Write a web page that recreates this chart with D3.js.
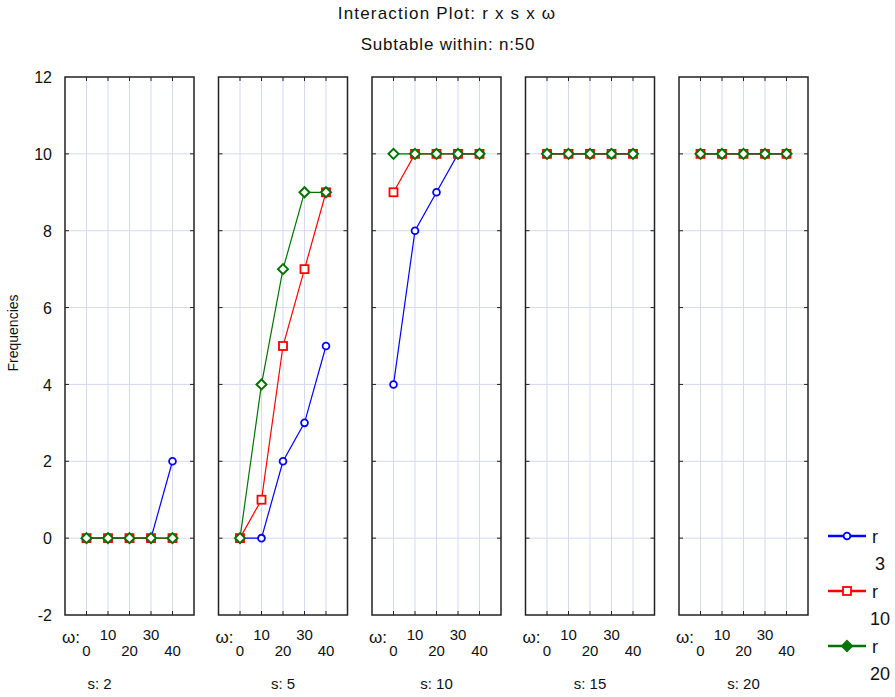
<!DOCTYPE html>
<html>
<head>
<meta charset="utf-8">
<script src="https://cdn.jsdelivr.net/npm/d3@7"></script>
<style>
  body { margin: 0; background: #fff; }
  text { font-family: "Liberation Sans", Arial, sans-serif; fill: #111; }
</style>
</head>
<body>
<div id="chart"></div>
<script>
// data
const omegaValues = [0, 10, 20, 30, 40];
const sPanels = [2, 5, 10, 15, 20];
const rLevels = [3, 10, 20];
const yTicks = [-2, 0, 2, 4, 6, 8, 10, 12];
// one row per s panel, values across omega
const freqR3 = [
    [0, 0, 0, 0, 2],
    [0, 0, 2, 3, 5],
    [4, 8, 9, 10, 10],
    [10, 10, 10, 10, 10],
    [10, 10, 10, 10, 10]
];
const freqR10 = [
    [0, 0, 0, 0, 0],
    [0, 1, 5, 7, 9],
    [9, 10, 10, 10, 10],
    [10, 10, 10, 10, 10],
    [10, 10, 10, 10, 10]
];
const freqR20 = [
    [0, 0, 0, 0, 0],
    [0, 4, 7, 9, 9],
    [10, 10, 10, 10, 10],
    [10, 10, 10, 10, 10],
    [10, 10, 10, 10, 10]
];

const series = [
    { r: rLevels[0], values: freqR3, color: "#0000ff", marker: "circle" },
    { r: rLevels[1], values: freqR10, color: "#ff0000", marker: "square" },
    { r: rLevels[2], values: freqR20, color: "#007400", marker: "diamond" }
];

const width = 895, height = 697;
const panel = { left: 65, top: 77, width: 129, height: 538, step: 153.5 };

const svg = d3.select("#chart")
    .append("svg")
    .attr("width", width)
    .attr("height", height);

// titles
svg.append("text")
    .attr("x", 447).attr("y", 19)
    .attr("text-anchor", "middle")
    .style("font-size", "17px")
    .style("letter-spacing", "1.2px")
    .text("Interaction Plot: r x s x ω");
svg.append("text")
    .attr("x", 448).attr("y", 50)
    .attr("text-anchor", "middle")
    .style("font-size", "17px")
    .style("letter-spacing", "0.8px")
    .text("Subtable within: n:50");

// y scale + axis labels
const y = d3.scaleLinear()
    .domain([-2, 12])
    .range([panel.top + panel.height, panel.top]);

const yAxis = d3.axisLeft(y).tickValues(yTicks).tickSize(0).tickPadding(0)
    .tickFormat(d => String(d));
const yG = svg.append("g")
    .attr("transform", `translate(52, 0)`)
    .call(yAxis);
yG.select(".domain").remove();
yG.selectAll("text")
    .style("font-size", "16px")
    .attr("font-family", null)
    .attr("dy", "0.35em");

svg.append("text")
    .attr("transform", `translate(18, 333) rotate(-90)`)
    .attr("text-anchor", "middle")
    .style("font-size", "14px")
    .text("Frequencies");

const x = d3.scaleLinear()
    .domain([-10, 50])
    .range([0, panel.width]);

function drawMarker(g, type, color, cx, cy, filled) {
    const fill = filled ? color : "#fff";
    if (type === "circle") {
        g.append("circle")
            .attr("cx", cx).attr("cy", cy).attr("r", 3.4)
            .attr("fill", fill).attr("stroke", color).attr("stroke-width", 1.8);
    } else if (type === "square") {
        g.append("rect")
            .attr("x", cx - 4).attr("y", cy - 4)
            .attr("width", 8).attr("height", 8)
            .attr("fill", fill).attr("stroke", color).attr("stroke-width", 1.8);
    } else {
        const s = 5;
        g.append("path")
            .attr("d", `M${cx},${cy - s}L${cx + s},${cy}L${cx},${cy + s}L${cx - s},${cy}Z`)
            .attr("fill", fill).attr("stroke", color).attr("stroke-width", 2);
    }
}

sPanels.forEach((s, i) => {
    const px = panel.left + i * panel.step;
    const g = svg.append("g").attr("transform", `translate(${px}, 0)`);

    // grid
    g.selectAll(".vgrid").data(omegaValues).enter()
        .append("line")
        .attr("x1", d => x(d)).attr("x2", d => x(d))
        .attr("y1", panel.top).attr("y2", panel.top + panel.height)
        .attr("stroke", "#d6d9f0").attr("stroke-width", 1);
    g.selectAll(".hgrid").data(yTicks.filter(d => d > -2 && d < 12)).enter()
        .append("line")
        .attr("x1", 0).attr("x2", panel.width)
        .attr("y1", d => y(d)).attr("y2", d => y(d))
        .attr("stroke", "#d6d9f0").attr("stroke-width", 1);

    // inner ticks
    omegaValues.forEach(d => {
        g.append("line").attr("x1", x(d)).attr("x2", x(d))
            .attr("y1", panel.top).attr("y2", panel.top + 4).attr("stroke", "#222");
        g.append("line").attr("x1", x(d)).attr("x2", x(d))
            .attr("y1", panel.top + panel.height - 4).attr("y2", panel.top + panel.height).attr("stroke", "#222");
    });
    yTicks.filter(d => d > -2 && d < 12).forEach(d => {
        g.append("line").attr("x1", 0).attr("x2", 4)
            .attr("y1", y(d)).attr("y2", y(d)).attr("stroke", "#222");
        g.append("line").attr("x1", panel.width - 4).attr("x2", panel.width)
            .attr("y1", y(d)).attr("y2", y(d)).attr("stroke", "#222");
    });

    // border
    g.append("rect")
        .attr("x", 0).attr("y", panel.top)
        .attr("width", panel.width).attr("height", panel.height)
        .attr("fill", "none").attr("stroke", "#222").attr("stroke-width", 1.5);

    // series
    const line = d3.line().x(d => x(d.w)).y(d => y(d.v));
    series.forEach(ser => {
        const pts = omegaValues.map((w, k) => ({ w, v: ser.values[i][k] }));
        g.append("path")
            .datum(pts)
            .attr("d", line)
            .attr("fill", "none")
            .attr("stroke", ser.color)
            .attr("stroke-width", 1.2);
        pts.forEach(p => drawMarker(g, ser.marker, ser.color, x(p.w), y(p.v), false));
    });

    // omega labels, staggered
    g.append("text")
        .attr("x", -3).attr("y", 643)
        .style("font-size", "17px")
        .text("ω:");
    g.selectAll(".wlab").data(omegaValues).enter()
        .append("text")
        .attr("x", d => x(d))
        .attr("y", (d, k) => k % 2 === 0 ? 656 : 640)
        .attr("text-anchor", "middle")
        .style("font-size", "15px")
        .text(d => d);

    // s label
    g.append("text")
        .attr("x", panel.width / 2 - (i === 0 ? 30 : 0))
        .attr("y", 689)
        .attr("text-anchor", "middle")
        .style("font-size", "15px")
        .text(`s: ${s}`);
});

// legend
series.forEach((ser, k) => {
    const ly = 536 + k * 55;
    const lg = svg.append("g");
    lg.append("line")
        .attr("x1", 828).attr("x2", 866)
        .attr("y1", ly).attr("y2", ly)
        .attr("stroke", ser.color).attr("stroke-width", 2.4);
    drawMarker(lg, ser.marker, ser.color, 847, ly, ser.marker === "diamond");
    lg.append("text")
        .attr("x", 872).attr("y", ly + 7)
        .style("font-size", "18px")
        .text("r");
    lg.append("text")
        .attr("x", 880).attr("y", ly + 34)
        .attr("text-anchor", "middle")
        .style("font-size", "18px")
        .text(ser.r);
});
</script>
</body>
</html>
